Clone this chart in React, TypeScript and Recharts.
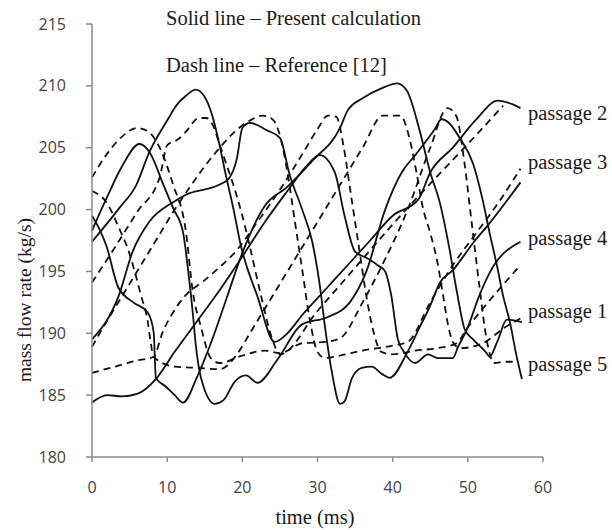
import { LineChart, Line, XAxis, YAxis } from 'recharts';

type Pt = [number, number];

// time (ms) / mass flow rate (kg/s)
const presentP1: Pt[] = [
  [0, 199.5], [1, 198.4], [1.9, 197.1], [3.5, 193.7], [5.5, 192.5], [7.4, 191.7], [8.2, 190.1],
  [8.5, 186.4], [9.8, 185.7], [11, 185], [12.1, 184.4], [14, 186.5], [16, 189.5], [18, 193],
  [20, 196.5], [23, 200.3], [25.9, 201.8], [29.4, 204], [33, 206.6], [34, 208], [36, 209],
  [38.5, 209.8], [40.6, 210.2], [41.9, 209.6], [43.5, 206.6], [45, 203], [46.3, 200.5],
  [47.5, 197], [48.5, 193.5], [49.6, 190.3], [50.7, 189.5], [52.5, 188.4], [52.9, 188.1],
  [53.9, 189.3], [55.2, 191.1], [57.2, 190.9],
];
const presentP2: Pt[] = [
  [0, 197.4], [3.6, 200.1], [5.9, 202], [7.6, 204.6], [10.2, 207.4], [11.2, 208.4], [12.5, 209.2],
  [13.8, 209.7], [14.9, 209.2], [16, 207.6], [16.9, 205.4], [17.8, 202.8], [18.8, 200.1],
  [19.8, 197.1], [22, 193], [24.3, 189.3], [26, 190], [28, 191.5], [31, 193.5], [34, 195.5],
  [37, 197.5], [40, 199.5], [43.4, 200.8], [45, 203], [48, 205], [51, 207.2], [54, 208.8],
  [56, 208.5], [57, 208.2],
];
const presentP3: Pt[] = [
  [0, 189.5], [3.6, 193.1], [5.4, 196.6], [7.6, 199], [10.8, 200.6], [12.5, 201.2], [16.9, 202],
  [18.2, 202.5], [19.3, 204.2], [20, 206.6], [21, 207], [23.3, 206.4], [25, 205.8], [26.3, 202.8],
  [27.9, 200.1], [29.3, 197.4], [30.3, 193.9], [31, 190.5], [31.9, 186.9], [33, 184.3],
  [33.6, 184.5], [34.6, 186.4], [35.9, 187.2], [37.2, 187.3], [38.6, 186.7], [39.6, 186.4],
  [41.9, 188.4], [43.6, 190.5], [44.9, 192.1], [46.3, 194.1], [48, 195.1], [50.7, 197.3],
  [52.9, 198.9], [57, 202.2],
];
const presentP4: Pt[] = [
  [0, 184.4], [2, 185], [4, 184.9], [6, 185.1], [8.5, 186.3], [11, 188.5], [14, 191], [17, 193.5],
  [20, 196.2], [23, 199], [26, 201.5], [28.5, 203.5], [30.3, 204.4], [32.3, 203], [33.6, 199.5],
  [35, 196.6], [36.5, 196.1], [38, 195.5], [39, 195], [39.8, 193.1], [40.7, 189.5], [41.5, 188.5],
  [43, 187.6], [44.7, 188.3], [46, 188], [48, 188], [48.7, 188.9], [50, 190.5], [51.5, 193],
  [53, 195], [57, 197.4],
];
const presentP5: Pt[] = [
  [0, 198.3], [2, 201], [4, 203.5], [6.3, 205.3], [7.7, 204.6], [9.5, 202], [10.8, 200.1],
  [12.1, 198.2], [12.9, 194.5], [13.4, 191.7], [13.8, 189.1], [14.5, 186.4], [16.3, 184.3],
  [17.5, 184.6], [19, 186.1], [20.5, 186.6], [22, 186], [24.7, 187.9], [27.9, 190.7],
  [31.3, 191.3], [34.3, 192.5], [36.5, 195], [39, 200], [41.2, 203], [43, 204.4], [45.6, 206.5],
  [46.5, 207.3], [47.5, 207], [48.9, 205.8], [50.7, 203.7], [52, 200.7], [52.9, 198.1],
  [53.9, 195.4], [54.7, 193], [55.6, 190.9], [56.5, 188.1], [57.2, 186.3],
];

const refP1: Pt[] = [
  [0, 201.5], [1.9, 200.6], [3.6, 198.5], [4.9, 196.6], [5.9, 194.5], [6.5, 193.1], [7.4, 191],
  [7.8, 189.3], [8.2, 188.1], [11, 187.3], [14, 187.2], [17, 187.1], [19.4, 188.4], [21, 190],
  [24, 193], [27, 196], [30, 199], [33, 202], [36, 205], [38.7, 207.6], [41, 207.6],
  [42.3, 205.6], [43.2, 202.9], [44, 200.2], [45, 198.1], [45.9, 195.9], [46.7, 193.1],
  [47.3, 190.9], [48, 189.3], [49, 188.8], [52, 189.2], [55, 190.5], [57, 191.2],
];
const refP2: Pt[] = [
  [0, 194.1], [3, 196.9], [6, 199.8], [9, 202.6], [10, 205.2], [11.5, 205.7], [12.5, 206.3],
  [14.2, 207.4], [15.2, 207.4], [16.1, 206.8], [16.9, 205.4], [17.8, 203.8], [18.8, 202],
  [20, 199.5], [21, 197], [22.5, 193], [24, 189.5], [25, 188.3], [30, 191.8], [35, 195.3],
  [40, 198.8], [45, 202.1], [50, 205.3], [54.7, 208.4],
];
const refP3: Pt[] = [
  [0, 188.9], [1.5, 190.5], [3, 192], [5, 194], [7, 196], [9, 198], [11, 200], [13, 201.8],
  [15, 203.5], [17, 205], [19, 206.3], [21, 207.2], [22.7, 207.6], [24, 207.3], [25, 206],
  [26, 203], [27, 199], [28, 195], [29, 191], [30, 188.5], [31, 188], [33, 188.2], [36, 188.6],
  [40, 189], [42, 189.3], [45, 192.5], [48, 195.5], [51, 198], [54, 200.5], [57, 203.3],
];
const refP4: Pt[] = [
  [0, 186.8], [3, 187.3], [6, 187.8], [8.2, 188.1], [9.4, 190.1], [10.8, 191.7], [12.5, 193.1],
  [14.8, 194.2], [16.9, 195.3], [19.1, 196.6], [22, 199], [25, 201.6], [28, 204.5], [30, 206.5],
  [31.4, 207.6], [32.5, 207.5], [33.5, 205], [34.5, 201], [35.5, 197], [36.5, 193], [37.5, 190],
  [38.5, 188.5], [40, 188.3], [43, 188.6], [46, 188.8], [48.5, 189.2], [50, 190.5], [52, 192],
  [54.5, 193.8], [57, 195.5],
];
const refP5: Pt[] = [
  [0, 202.6], [2, 204.5], [4, 205.9], [6, 206.6], [7.5, 206.3], [9, 205], [10.8, 202],
  [12.5, 198.2], [13.4, 193.4], [14.5, 190.5], [15.8, 188], [17, 187.6], [20, 188.2],
  [23, 188.6], [25, 188.4], [28, 189.2], [31, 189.3], [33, 189.6], [36, 192.5], [39, 196],
  [42, 200], [45, 205], [47.3, 208.2], [48.5, 207.5], [49.5, 204], [50.5, 199], [51.5, 194],
  [52.5, 189.5], [53.5, 187.6], [55, 187.7], [56.5, 187.7],
];

const timeTicks = [0, 10, 20, 30, 40, 50, 60];
const flowTicks = [180, 185, 190, 195, 200, 205, 210, 215];

const passageLabels = [
  { text: 'passage 2', y: 113 },
  { text: 'passage 3', y: 162 },
  { text: 'passage 4', y: 238 },
  { text: 'passage 1', y: 311 },
  { text: 'passage 5', y: 364 },
];

const toRows = (pts: Pt[]) => pts.map(([t, v]) => ({ t, v }));

const presentSeries = [presentP1, presentP2, presentP3, presentP4, presentP5];
const refSeries = [refP1, refP2, refP3, refP4, refP5];

const serif = "'Liberation Serif', 'Times New Roman', serif";
const sans = "'Open Sans', 'Liberation Sans', sans-serif";

const textStyle = (x: number, y: number, size = 20.5): React.CSSProperties => ({
  position: 'absolute',
  left: x,
  top: y,
  transform: 'translateY(-50%)',
  fontFamily: serif,
  fontSize: size,
  color: '#1a1a1a',
  whiteSpace: 'nowrap',
  lineHeight: 1,
});

// y tick labels sit well to the left of the tick marks
const FlowTick = (props: any) => {
  const { x, y, payload } = props;
  return (
    <text x={x - 18} y={y} dy="0.35em" textAnchor="end" fill="#444" fontSize={16} fontFamily={sans}>
      {payload.value}
    </text>
  );
};

export default function App() {
  return (
    <div style={{ position: 'absolute', left: 0, top: 0, width: 612, height: 530, background: '#fff' }}>
      <LineChart width={612} height={530} margin={{ top: 24, right: 69, bottom: 23, left: 32 }}>
        <XAxis
          type="number"
          dataKey="t"
          domain={[0, 60]}
          ticks={timeTicks}
          height={50}
          tickSize={5}
          tickMargin={20}
          stroke="#8c8c8c"
          strokeWidth={1.5}
          tick={{ fill: '#444', fontSize: 16, fontFamily: sans }}
        />
        <YAxis
          type="number"
          domain={[180, 215]}
          ticks={flowTicks}
          width={60}
          tickSize={6}
          stroke="#8c8c8c"
          strokeWidth={1.5}
          tick={<FlowTick />}
        />
        {presentSeries.map((pts, i) => (
          <Line
            key={`present-${i}`}
            data={toRows(pts)}
            dataKey="v"
            type="monotone"
            stroke="#111"
            strokeWidth={1.8}
            dot={false}
            isAnimationActive={false}
          />
        ))}
        {refSeries.map((pts, i) => (
          <Line
            key={`ref-${i}`}
            data={toRows(pts)}
            dataKey="v"
            type="monotone"
            stroke="#111"
            strokeWidth={1.8}
            strokeDasharray="7 5"
            dot={false}
            isAnimationActive={false}
          />
        ))}
      </LineChart>

      <div style={textStyle(166, 18)}>Solid line – Present calculation</div>
      <div style={textStyle(166, 65)}>Dash line – Reference [12]</div>
      {passageLabels.map((p) => (
        <div key={p.text} style={textStyle(528, p.y)}>
          {p.text}
        </div>
      ))}
      <div style={{ ...textStyle(315, 517), transform: 'translate(-50%, -50%)' }}>time (ms)</div>
      <div
        style={{
          ...textStyle(25, 300, 19.5),
          transform: 'translate(-50%, -50%) rotate(-90deg)',
        }}
      >
        mass flow rate (kg/s)
      </div>
    </div>
  );
}
